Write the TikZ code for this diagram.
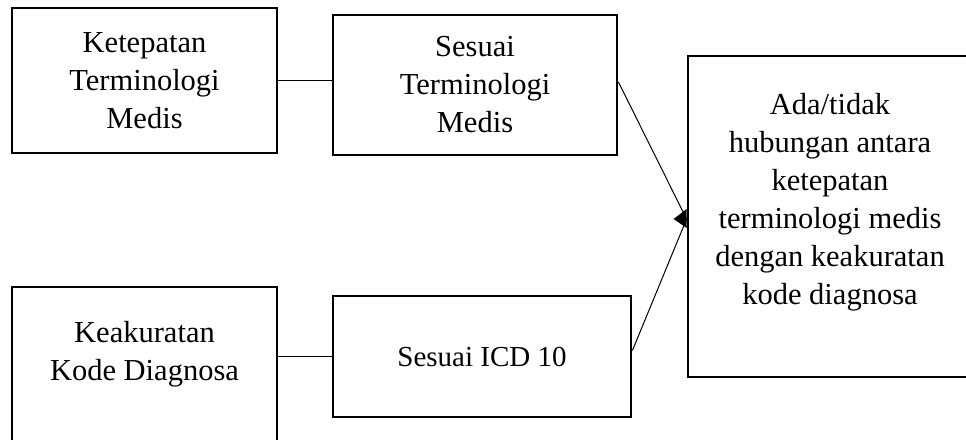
\documentclass[tikz,border=0pt]{standalone}
\usepackage{fontspec}
\setmainfont{Liberation Serif}
\begin{document}
\begin{tikzpicture}[x=1pt,y=1pt,
  box/.style={draw=black,line width=2.8pt,rectangle,inner sep=0pt,align=center,
    font=\fontsize{30.5}{38}\selectfont},
  txt/.style={inner sep=0pt,align=center,font=\fontsize{30.5}{38}\selectfont},
  link/.style={draw=black,line width=1pt}]
\useasboundingbox (0,0) rectangle (966,-439);
\clip (0,0) rectangle (966,-439);
\node[box,minimum width=265pt,minimum height=145pt] (A) at (144.5,-80.5)
  {Ketepatan\\Terminologi\\Medis};
\node[box,minimum width=284pt,minimum height=140pt] (B) at (475,-85)
  {Sesuai\\Terminologi\\Medis};
\node[box,minimum width=265pt,minimum height=173pt] (C) at (144.5,-373.5) {};
\node[txt] (Ct) at (144.5,-354) {Keakuratan\\Kode Diagnosa};
\node[box,minimum width=298pt,minimum height=121pt,font=\fontsize{29}{38}\selectfont] (D) at (482,-356.5)
  {Sesuai ICD 10};
\node[box,minimum width=284pt,minimum height=321pt] (E) at (830,-216.5) {};
\node[txt] (Et) at (830,-202)
  {Ada/tidak\\hubungan antara\\ketepatan\\terminologi medis\\dengan keakuratan\\kode diagnosa};
\coordinate (m) at (E.west |- 0,-219);
\draw[link] (A.east) -- (A.east -| B.west);
\draw[link] (C.east |- D.west) -- (D.west);
\draw[link] ([yshift=3pt]B.east) -- (m);
\draw[link] ([yshift=6pt]D.east) -- (m);
\fill[black] (m) ++(-13,0) -- ++(13,10) -- ++(0,-19) -- cycle;
\end{tikzpicture}
\end{document}
